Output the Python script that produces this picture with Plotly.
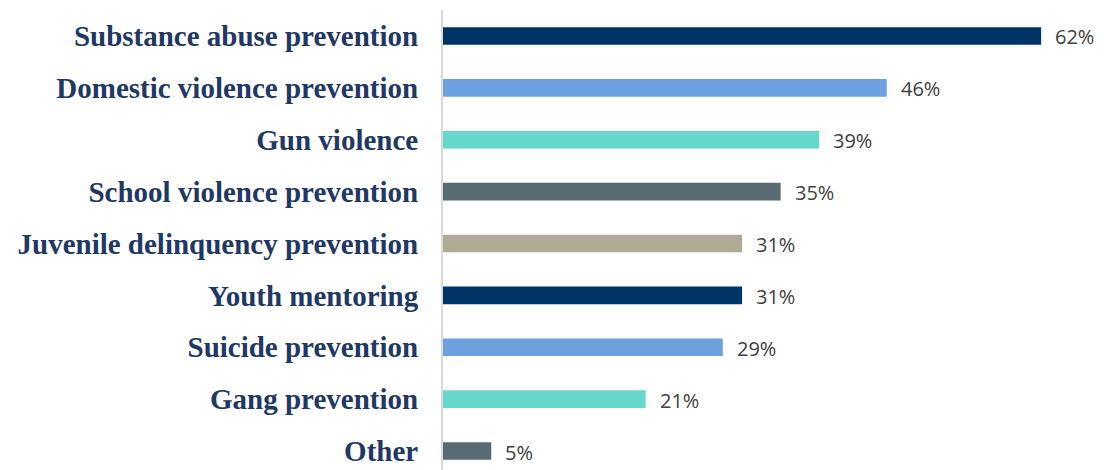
import plotly.graph_objects as go

categories = [
    'Substance abuse prevention',
    'Domestic violence prevention',
    'Gun violence',
    'School violence prevention',
    'Juvenile delinquency prevention',
    'Youth mentoring',
    'Suicide prevention',
    'Gang prevention',
    'Other',
]
values = [62, 46, 39, 35, 31, 31, 29, 21, 5]
bar_colors = ['#003366', '#6CA0DF', '#66D7CB', '#596B73', '#AFAA96',
              '#003366', '#6CA0DF', '#66D7CB', '#596B73']
value_labels = [f'{v}%' for v in values]

fig = go.Figure()
fig.add_trace(go.Bar(
    x=values,
    y=categories,
    orientation='h',
    width=0.34,
    marker=dict(color=bar_colors, line=dict(width=0)),
    hoverinfo='skip',
))

# value labels sit a little to the right of each bar end
for cat, val, lab in zip(categories, values, value_labels):
    fig.add_annotation(
        x=val, y=cat, text=lab, showarrow=False,
        xanchor='left', xshift=12, yshift=-1,
        font=dict(family='Open Sans', size=20, color='#404040'),
    )

# page body adds ~8px margin, so the figure is sized a bit smaller
fig.update_layout(
    width=1096,
    height=462,
    margin=dict(l=435, r=5, t=2, b=0, autoexpand=False),
    plot_bgcolor='white',
    paper_bgcolor='white',
    showlegend=False,
    xaxis=dict(range=[0, 68], showgrid=False, zeroline=False,
               showticklabels=False, showline=False, automargin=False),
    yaxis=dict(
        categoryorder='array', categoryarray=categories,
        range=[8.366, -0.501],
        showgrid=False, zeroline=False, automargin=False,
        showline=True, linecolor='#D9D9D9', linewidth=2,
        ticks='', ticklabelstandoff=17,
        tickfont=dict(family='Liberation Serif', size=29, color='#1F3864',
                      weight='bold'),
    ),
)

fig.write_html('out.html')
